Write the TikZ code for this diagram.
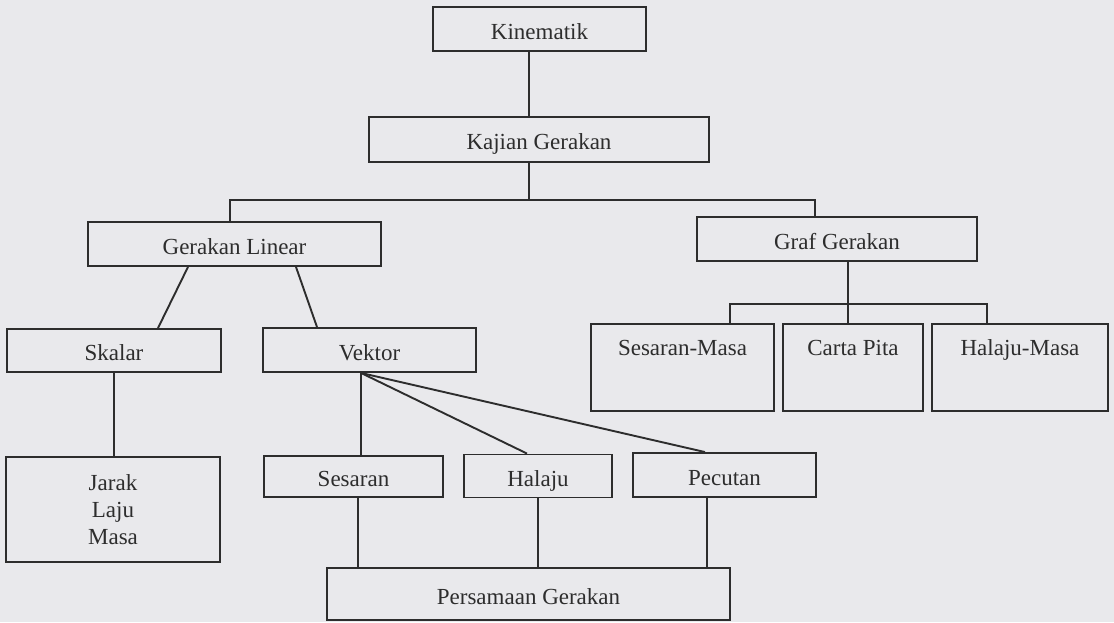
\documentclass[tikz,border=0pt]{standalone}
\usepackage{fontspec}
\setmainfont{Liberation Serif}
\definecolor{bgc}{RGB}{233,233,236}
\definecolor{ink}{RGB}{45,45,45}
\tikzset{
  boxbase/.style={draw=ink, line width=1.9pt, rectangle, inner sep=0pt, text=ink,
    font=\fontsize{23}{27}\selectfont, align=center},
  box/.style={boxbase, text height=20pt, text depth=0pt},
  tallbox/.style={boxbase, inner xsep=0pt, inner ysep=16pt, text height=15pt, text depth=40pt, minimum height=87pt},
  conn/.style={draw=ink, line width=1.9pt}
}
\begin{document}
\begin{tikzpicture}[x=1pt,y=-1pt]
\fill[bgc] (0,0) rectangle (1114,622);
\useasboundingbox (0,0) rectangle (1114,622);

\node[box, minimum width=213pt, minimum height=44pt] (kin) at (539.5,29) {Kinematik};
\node[box, minimum width=340pt, minimum height=45pt] (kaj) at (539,139.5) {Kajian Gerakan};
\node[box, minimum width=293pt, minimum height=44pt] (lin) at (234.5,244) {Gerakan Linear};
\node[box, minimum width=280pt, minimum height=44pt] (graf) at (837,239) {Graf Gerakan};
\node[box, minimum width=214pt, minimum height=43pt] (skalar) at (114,350.5) {Skalar};
\node[box, minimum width=213pt, minimum height=44pt] (vektor) at (369.5,350) {Vektor};
\node[tallbox, minimum width=183pt] (sm) at (682.5,367.5) {Sesaran-Masa};
\node[tallbox, minimum width=140pt] (cp) at (853,367.5) {Carta Pita};
\node[tallbox, minimum width=176pt] (hm) at (1020,367.5) {Halaju-Masa};
\node[boxbase, minimum width=214pt, minimum height=105pt] (jarak) at (113,509.5) {Jarak\\Laju\\Masa};
\node[box, minimum width=179pt, minimum height=41pt] (ses) at (353.5,476.5) {Sesaran};
\node[box, minimum width=148pt, minimum height=43pt] (hal) at (538,476) {Halaju};
\node[box, minimum width=183pt, minimum height=44pt] (pec) at (724.5,475) {Pecutan};
\node[box, minimum width=403pt, minimum height=52pt] (pers) at (528.5,594) {Persamaan Gerakan};

\coordinate (bar) at (529,200);
\coordinate (gb) at (848,304);

\draw[conn] ([xshift=-10.5pt]kin.south) -- ([xshift=-10.5pt]kin.south |- kaj.north);
\draw[conn] ([xshift=-10pt]kaj.south) -- (bar);
\draw[conn] ([xshift=-4.5pt]lin.north) |- (bar) -| ([xshift=-22pt]graf.north);

\draw[conn] ([xshift=-46.5pt]lin.south) -- ([xshift=44pt]skalar.north);
\draw[conn] ([xshift=61.5pt]lin.south) -- ([xshift=-52.5pt]vektor.north);

\draw[conn] (skalar.south) -- (skalar.south |- jarak.north);

\draw[conn] ([xshift=-8.5pt]vektor.south) -- ([xshift=7.5pt]ses.north);
\draw[conn] ([xshift=-8.5pt]vektor.south) -- ([xshift=-11pt]hal.north);
\draw[conn] ([xshift=-8.5pt]vektor.south) -- ([xshift=-19.5pt]pec.north);

\draw[conn] ([xshift=4.5pt]ses.south) -- ([xshift=4.5pt]ses.south |- pers.north);
\draw[conn] (hal.south) -- (hal.south |- pers.north);
\draw[conn] ([xshift=-17.5pt]pec.south) -- ([xshift=-17.5pt]pec.south |- pers.north);

\draw[conn] ([xshift=11pt]graf.south) -- ([xshift=-5pt]cp.north);
\draw[conn] ([xshift=47.5pt]sm.north) |- (gb) -| ([xshift=-33pt]hm.north);
\end{tikzpicture}
\end{document}
